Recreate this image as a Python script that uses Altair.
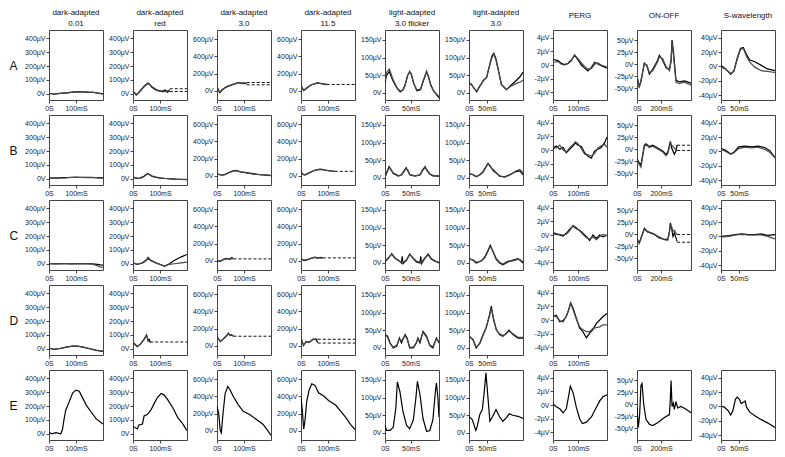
import altair as alt
import pandas as pd

# ---------------- data (time in ms, amplitude in µV) ----------------
A1_x = [0,10,20,30,40,50,60,70,80,90,100,110,120,130,140,150,160,170,180,190,200]
A1_y1 = [2,0,-2,1,3,5,4,8,10,12,14,15,13,14,12,10,12,8,5,3,0]
A1_y2 = [0,2,0,-1,2,4,7,6,9,13,12,14,15,12,13,11,9,9,6,1,-2]
A2_x = [0,6,12,19,30,45,56,62,70,85,100,110,118,128,136]
A2_y1 = [14,8,-9,5,30,62,77,68,50,30,22,14,28,10,30]
A2_y2 = [10,5,-4,2,25,58,72,65,45,25,18,22,14,22,16]
A2_dash_x = [136, 200]
A2_dash = [36, 16]
A3_x = [0,4,10,20,30,40,50,60,70,80,90,100,110]
A3_y1 = [40,15,-25,10,35,50,60,72,85,95,88,82,90]
A3_y2 = [45,20,-18,15,30,55,65,75,80,90,85,92,75]
A3_dash_x = [110, 200]
A3_dash = [95, 68]
A4_x = [0,5,10,20,30,40,50,60,70,80,90,95]
A4_y1 = [60,30,0,25,50,68,80,90,84,80,75,72]
A4_y2 = [55,25,5,30,55,72,78,85,88,78,70,70]
A4_dash_x = [95, 200]
A4_dash = [72]
A5_x = [0,3,8.5,15,23,29.5,35,39,44,48,51,56,62,69,75,81,85,89,95,102,105]
A5_y1 = [30,50,60,36,14,3,9,23,50,59,55,27,6,9,36,59,45,23,5,-8,-14]
A5_y2 = [35,58,68,40,16,5,8,20,48,62,52,25,8,11,38,62,42,20,4,-6,-10]
A6_x = [0,7,14,21,30,40,49,58,64,69,75,81,90,104,118,132,141,150]
A6_y1 = [30,23,14,3,18,36,43,82,105,112,96,68,23,9,23,36,45,59]
A6_y2 = [28,25,12,5,20,34,45,80,100,110,92,65,25,10,20,27,30,36]
A7_x = [0,20,33,46,60,73,86,100,113,126,139,153,166,179,192,215]
A7_y1 = [0.8,0.65,0.25,0.05,0.25,0.75,1.4,0.75,0,-0.45,-0.85,-0.35,0.4,0.15,-0.1,-0.45]
A7_y2 = [0.4,0.5,0.1,0.0,0.2,0.6,1.5,0.9,0.3,-0.2,-0.6,-0.5,0.1,0.3,0.0,-0.3]
A8_x = [0,19,33,61,83,103,131,172,186,214,242,270,284,292,303,325,353,395,450]
A8_y1 = [-27,-46,-37,2,-4,-21,-11,8,18,8,-8,-11,8,50,28,-34,-37,-35,-40]
A8_y2 = [-24,-50,-33,0,-2,-18,-14,5,15,11,-5,-14,5,45,20,-38,-41,-38,-44]
A9_x = [0,13,27,36,45,54,62,71,80,94,112,129,150]
A9_y1 = [1.5,-3.5,-11,-6,11.5,25,26.5,16.5,9,6.5,1.5,-3.5,-6]
A9_y2 = [-1,-4,-10,-7,10,24,25,14,6,-1,-6,-7,-8.5]

B1_x = [0,20,40,60,80,100,120,140,160,180,200]
B1_y1 = [5,4,6,8,9,10,11,10,9,8,6]
B1_y2 = [3,6,5,6,10,12,9,8,10,6,4]
B2_x = [0,10,20,30,40,50,55,60,70,80,90,100,120,140,160,180,200]
B2_y1 = [12,5,2,8,18,32,38,30,18,12,10,6,2,0,-3,-5,-6]
B2_y2 = [10,8,3,6,15,28,35,32,22,15,8,5,2,-2,-4,-4,-5]
B3_x = [0,10,20,30,40,50,60,70,80,90,100,110,120,140,160,180,200]
B3_y1 = [25,10,5,15,30,45,55,62,50,40,38,35,30,20,10,5,0]
B3_y2 = [20,12,8,12,28,40,52,58,52,45,40,30,25,15,12,8,2]
B4_x = [0,5,12,20,30,40,50,60,70,80,90,100,110,125]
B4_y1 = [45,20,5,15,30,45,60,70,72,70,65,60,55,50]
B4_y2 = [40,25,8,18,35,48,62,68,75,72,62,58,52,50]
B4_dash_x = [125, 200]
B4_dash = [50]
B5_x = [0,4,8,12,16,26,32,37,41,45,48,58,68,73,78,82,87,93,105]
B5_y1 = [3,18,32,22,14,6,9,20,29,18,9,5,9,22,32,20,11,6,5]
B5_y2 = [2,15,30,24,12,5,8,18,27,20,10,6,8,20,30,22,12,7,6]
B6_x = [0,11,20,30,39,46,53,59,67,85,99,113,131,141,150]
B6_y1 = [12,9,3,9,18,30,41,32,23,5,3,9,18,20,9]
B6_y2 = [10,10,4,8,16,28,40,34,20,6,2,8,20,24,15]
B7_x = [0,13,27,40,53,66,80,89,100,113,126,139,153,166,179,192,206,215]
B7_y1 = [0.1,0.6,0.1,0.4,-0.4,0.1,0.6,1.0,0.7,0.5,-0.4,-0.9,-1.2,-0.15,0.1,0.35,1.1,1.9]
B7_y2 = [0.6,0.3,0.7,0.0,-0.3,0.3,0.8,1.2,0.9,0.2,-0.6,-0.7,-0.9,-0.5,0.3,0.6,0.8,0.4]
B8_x = [0,19,33,61,75,103,131,172,214,242,256,278,289,311,325,334]
B8_y1 = [-20,-29,-33,8,11,5,8,2,-4,-11,-7,16,2,-11,-4,8]
B8_y2 = [-22,-32,-38,5,9,3,6,0,-6,-14,-10,12,8,2,-2,-3]
B8_dash_x = [334, 450]
B8_dash = [8, -3]
B9_x = [0,13,27,36,49,67,85,103,121,135,150]
B9_y1 = [4,1.5,-3.5,-1,6.5,7.5,6.5,7.5,5.5,1.5,-8.5]
B9_y2 = [3,0,-4,-2,4,6,5,6,3,-1,-9]

C1_x = [0,20,40,60,80,100,120,140,160,170,180,190,200]
C1_y1 = [0,-1,1,0,-1,0,1,0,0,-2,-5,-8,-10]
C1_y2 = [1,0,-1,1,0,-1,0,-1,-3,-8,-15,-22,-27]
C2_x = [0,16,35,48,56,66,85,104,116,135,154,179,200]
C2_y1 = [7,-5,7,25,45,25,7,-7,-18,0,25,50,67]
C2_y2 = [5,-3,5,22,40,22,5,-8,-15,-5,0,7,12]
C3_x = [0,12,24,36,48,55,61]
C3_y1 = [0,-10,15,27,15,35,20]
C3_y2 = [5,-5,10,20,25,20,25]
C3_dash_x = [61, 200]
C3_dash = [20]
C4_x = [0,12,25,38,50,62,75,81]
C4_y1 = [22,0,11,30,37,30,37,30]
C4_y2 = [20,5,15,25,40,35,30,35]
C4_dash_x = [81, 200]
C4_dash = [32]
C5_x = [0,6,13,19,26,32,33.5,35,42,48,55,61,68,69.5,71,77,84,90,97,105]
C5_y1 = [3,12,26,15,8,0,19,-2,8,25,12,3,0,19,-2,12,25,12,6,0]
C5_y2 = [5,14,24,13,6,2,4,1,10,23,14,5,2,3,1,14,23,10,4,2]
C6_x = [0,11,20,34,44,53,59,67,76,85,94,108,122,136,141,150]
C6_y1 = [12,8,0,6,17,36,50,31,9,0,-5,3,8,12,8,0]
C6_y2 = [10,9,2,5,15,33,47,33,12,2,-3,5,6,10,10,3]
C7_x = [0,13,27,40,53,66,80,93,106,119,133,146,159,173,186,199,215]
C7_y1 = [0.25,0.1,0,-0.15,0.25,0.8,1.3,0.9,0.7,0.25,-0.25,-0.8,0,-0.5,0,-0.25,0]
C7_y2 = [0.4,0.2,0.1,0.0,0.1,0.6,1.4,1.1,0.6,0.1,-0.4,-0.6,-0.3,-0.7,-0.2,0.1,-0.1]
C8_x = [0,19,33,61,89,117,145,186,228,256,270,278,289,300,311,325,334]
C8_y1 = [-11,-18,-8,12,5,2,-1,-8,-11,-11,5,23,12,-5,2,-8,-15]
C8_y2 = [-13,-20,-10,10,4,3,0,-6,-12,-13,2,18,15,5,8,2,-1]
C8_dash_x = [334, 450]
C8_dash = [-1, -17]
C9_x = [0,22,40,58,76,94,112,130,150]
C9_y1 = [0,1,2.5,3.5,2.5,2.5,3.5,1.5,2.5]
C9_y2 = [-1,0,2,3,2,2,2,0,-3.5]

D1_x = [0,19,38,62,88,106,125,150,175,200]
D1_y1 = [5,-5,0,12,19,19,12,0,-12,-19]
D1_y2 = [3,-3,2,10,20,18,14,2,-10,-17]
D2_x = [0,16,29,41,50,56,60,64]
D2_y1 = [44,15,37,68,100,56,68,44]
D2_y2 = [48,18,35,70,95,60,55,50]
D2_dash_x = [64, 200]
D2_dash = [49]
D3_x = [0,12,24,36,42,48,54,61]
D3_y1 = [107,46,82,118,146,118,128,110]
D3_y2 = [100,50,78,115,140,125,120,112]
D3_dash_x = [61, 200]
D3_dash = [110]
D4_x = [0,9,19,31,44,56,62]
D4_y1 = [94,0,49,38,75,70,35]
D4_y2 = [90,5,45,42,70,80,75]
D4_dash_x = [62, 200]
D4_dash = [74, 30]
D5_x = [0,5,10,16,23,28,32,39,43,48,55,61,64,68,74,81,87,93,100,105]
D5_y1 = [38,33,14,0,5,28,14,38,28,0,0,14,28,14,47,33,7,0,28,14]
D5_y2 = [40,30,12,2,8,25,20,35,25,3,2,16,25,20,44,30,9,3,25,18]
D6_x = [0,11,20,30,39,48,57,62,68,76,85,94,104,111,122,136,150]
D6_y1 = [33,24,0,14,38,57,94,118,80,52,38,33,42,50,38,28,28]
D6_y2 = [35,22,3,12,35,60,90,112,85,50,40,35,40,48,40,30,30]
D7_x = [0,13,27,40,53,62,70,80,93,106,119,133,146,159,173,186,199,215]
D7_y1 = [0.5,0.7,-0.25,-0.1,0.5,1.4,2.5,1.7,0.25,-1.2,-1.7,-2.6,-1.9,-1.4,-0.5,0,0.5,0.95]
D7_y2 = [0.6,0.5,-0.1,-0.3,0.6,1.5,2.4,1.5,0.1,-1.0,-1.4,-1.7,-1.7,-1.2,-1.1,-1.0,-0.7,-0.7]

E1_x = [0,12,25,44,50,56,62,75,88,100,112,125,138,156,175,200]
E1_y1 = [8,0,8,0,32,107,170,232,295,315,307,257,207,157,107,70]
E2_x = [0,16,22,35,41,54,66,79,91,104,116,129,148,166,185,200]
E2_y1 = [53,35,63,70,128,140,170,221,263,290,279,244,186,116,70,23]
E3_x = [0,6,12,16,22,30,40,48,61,79,97,121,145,170,188,200]
E3_y1 = [283,208,0,-26,189,434,517,479,396,302,226,189,132,75,0,-57]
E4_x = [0,5,10,15,21,30,40,52,65,84,102,128,146,165,184,200]
E4_y1 = [389,230,18,124,336,477,548,530,442,406,353,300,230,159,71,11]
E5_x = [0,3,10,16,21,24,29,35,42,48,55,60,63,68,74,81,87,93,98,100,103,105]
E5_y1 = [21,7,7,16,69,144,117,60,21,12,36,98,146,108,40,4,7,36,117,141,98,45]
E6_x = [0,9,19,23,30,37,42,47,52,58,66,75,84,94,103,112,122,136,150]
E6_y1 = [47,38,7,19,52,66,113,170,108,33,47,66,47,33,42,54,50,47,41]
E7_x = [0,13,27,40,53,60,69,80,93,106,117,133,153,166,186,199,215]
E7_y1 = [0.15,-0.25,-0.55,-1.15,-0.55,0.85,2.75,1.8,-0.35,-2.0,-2.7,-2.5,-1.75,-0.8,0.6,1.2,1.5]
E8_x = [0,11,22,33,42,56,75,103,131,172,228,270,278,284,292,303,311,325,339,367,409,450]
E8_y1 = [-8,-49,-22,39,43,-1,-32,-42,-45,-39,-28,-22,12,49,-5,2,-11,5,-8,-5,-11,-18]
E9_x = [0,9,20,27,33,40,45,51,56,62,67,71,80,94,112,129,150]
E9_y1 = [0.5,-1,-6,-12,-6,10,13,10,4,6,7.6,-1,-8,-13,-18.5,-23,-29.5]

# column settings: x range, x ticks, y range, y ticks
X_MAX = [200, 200, 200, 200, 105, 150, 215, 450, 150]
X_TICKS = [[0, 100], [0, 100], [0, 100], [0, 100], [0, 50], [0, 50], [0, 100], [0, 200], [0, 50]]
Y_DOM = [[-45, 460], [-45, 460], [-110, 710], [-110, 710], [-20, 178], [-20, 178],
         [-5.1, 5.1], [-75, 71], [-47, 51]]
Y_TICKS = [[0, 100, 200, 300, 400], [0, 100, 200, 300, 400], [0, 200, 400, 600], [0, 200, 400, 600],
           [0, 50, 100, 150], [0, 50, 100, 150], [-4, -2, 0, 2, 4], [-50, -25, 0, 25, 50],
           [-40, -20, 0, 20, 40]]
COL_TITLES = [["dark-adapted", "0.01"], ["dark-adapted", "red"], ["dark-adapted", "3.0"],
              ["dark-adapted", "11.5"], ["light-adapted", "3.0 flicker"], ["light-adapted", "3.0"],
              ["PERG"], ["ON-OFF"], ["S-wavelength"]]
ROWS = ["A", "B", "C", "D", "E"]

G = globals()
FONT = "Liberation Sans, Arial, sans-serif"
W, H = 54, 70


def panel(row, col):
    key = f"{row}{col + 1}"
    xs = G[key + "_x"]
    recs = []
    for k in (1, 2):
        name = f"{key}_y{k}"
        if name in G:
            recs += [{"x": a, "y": b, "s": f"t{k}"} for a, b in zip(xs, G[name])]
    df = pd.DataFrame(recs)
    yaxis_kw = dict(values=Y_TICKS[col], labelExpr="datum.value == 0 ? '0V' : datum.value + 'µV'",
                    grid=False, domain=False, tickSize=3, labelPadding=1, labelFlush=False,
                    title=None)
    if col == 0:
        yaxis_kw.update(title=row, titleAngle=0, titleX=-40, titleY=H / 2, titleAlign="left",
                        titleBaseline="middle", titleFontSize=12, titleFontWeight="normal",
                        titleFont=FONT, titleColor="#111")
    xenc = alt.X("x:Q", scale=alt.Scale(domain=[0, X_MAX[col]], nice=False, zero=False),
                 axis=alt.Axis(values=X_TICKS[col],
                               labelExpr="datum.value == 0 ? '0S' : datum.value + 'mS'",
                               grid=False, domain=False, tickSize=3, labelPadding=1,
                               labelFlush=False, labelOverlap=False, title=None))
    yenc = alt.Y("y:Q", scale=alt.Scale(domain=Y_DOM[col], nice=False, zero=False),
                 axis=alt.Axis(**yaxis_kw))
    layers = [alt.Chart(df).mark_line(strokeWidth=1.2, clip=True).encode(
        x=xenc, y=yenc, detail="s:N",
        color=alt.Color("s:N", scale=alt.Scale(domain=["t1", "t2"], range=["#000000", "#4a4a4a"]),
                        legend=None))]
    if key + "_dash" in G:
        dx = G[key + "_dash_x"]
        drecs = []
        for i, lv in enumerate(G[key + "_dash"]):
            drecs += [{"x": dx[0], "y": lv, "k": i}, {"x": dx[1], "y": lv, "k": i}]
        layers.append(alt.Chart(pd.DataFrame(drecs)).mark_line(
            strokeWidth=1, strokeDash=[3, 2], color="#111", clip=True).encode(
            x=xenc, y=yenc, detail="k:N"))
    ch = alt.layer(*layers).properties(width=W, height=H)
    if row == "A":
        t = COL_TITLES[col]
        if len(t) == 2:
            ch = ch.properties(title=alt.TitleParams(text=t, offset=2))
        else:
            ch = ch.properties(title=alt.TitleParams(text=t[0], offset=10))
    return ch


rows = []
for r in ROWS:
    ncol = 7 if r == "D" else 9
    rows.append(alt.hconcat(*[panel(r, c) for c in range(ncol)], spacing=30, bounds="flush"))

chart = alt.vconcat(*rows, spacing=2).properties(
    padding={"left": 0, "top": 0, "right": 0, "bottom": 0}
).configure_view(stroke="#444", strokeWidth=1).configure_axis(
    labelFont=FONT, labelFontSize=7, labelColor="#222", tickColor="#444"
).configure_title(
    font=FONT, fontSize=8, fontWeight="normal", color="#111", lineHeight=11, anchor="middle"
)

chart.save("out.html", embed_options={"renderer": "svg", "actions": False})
